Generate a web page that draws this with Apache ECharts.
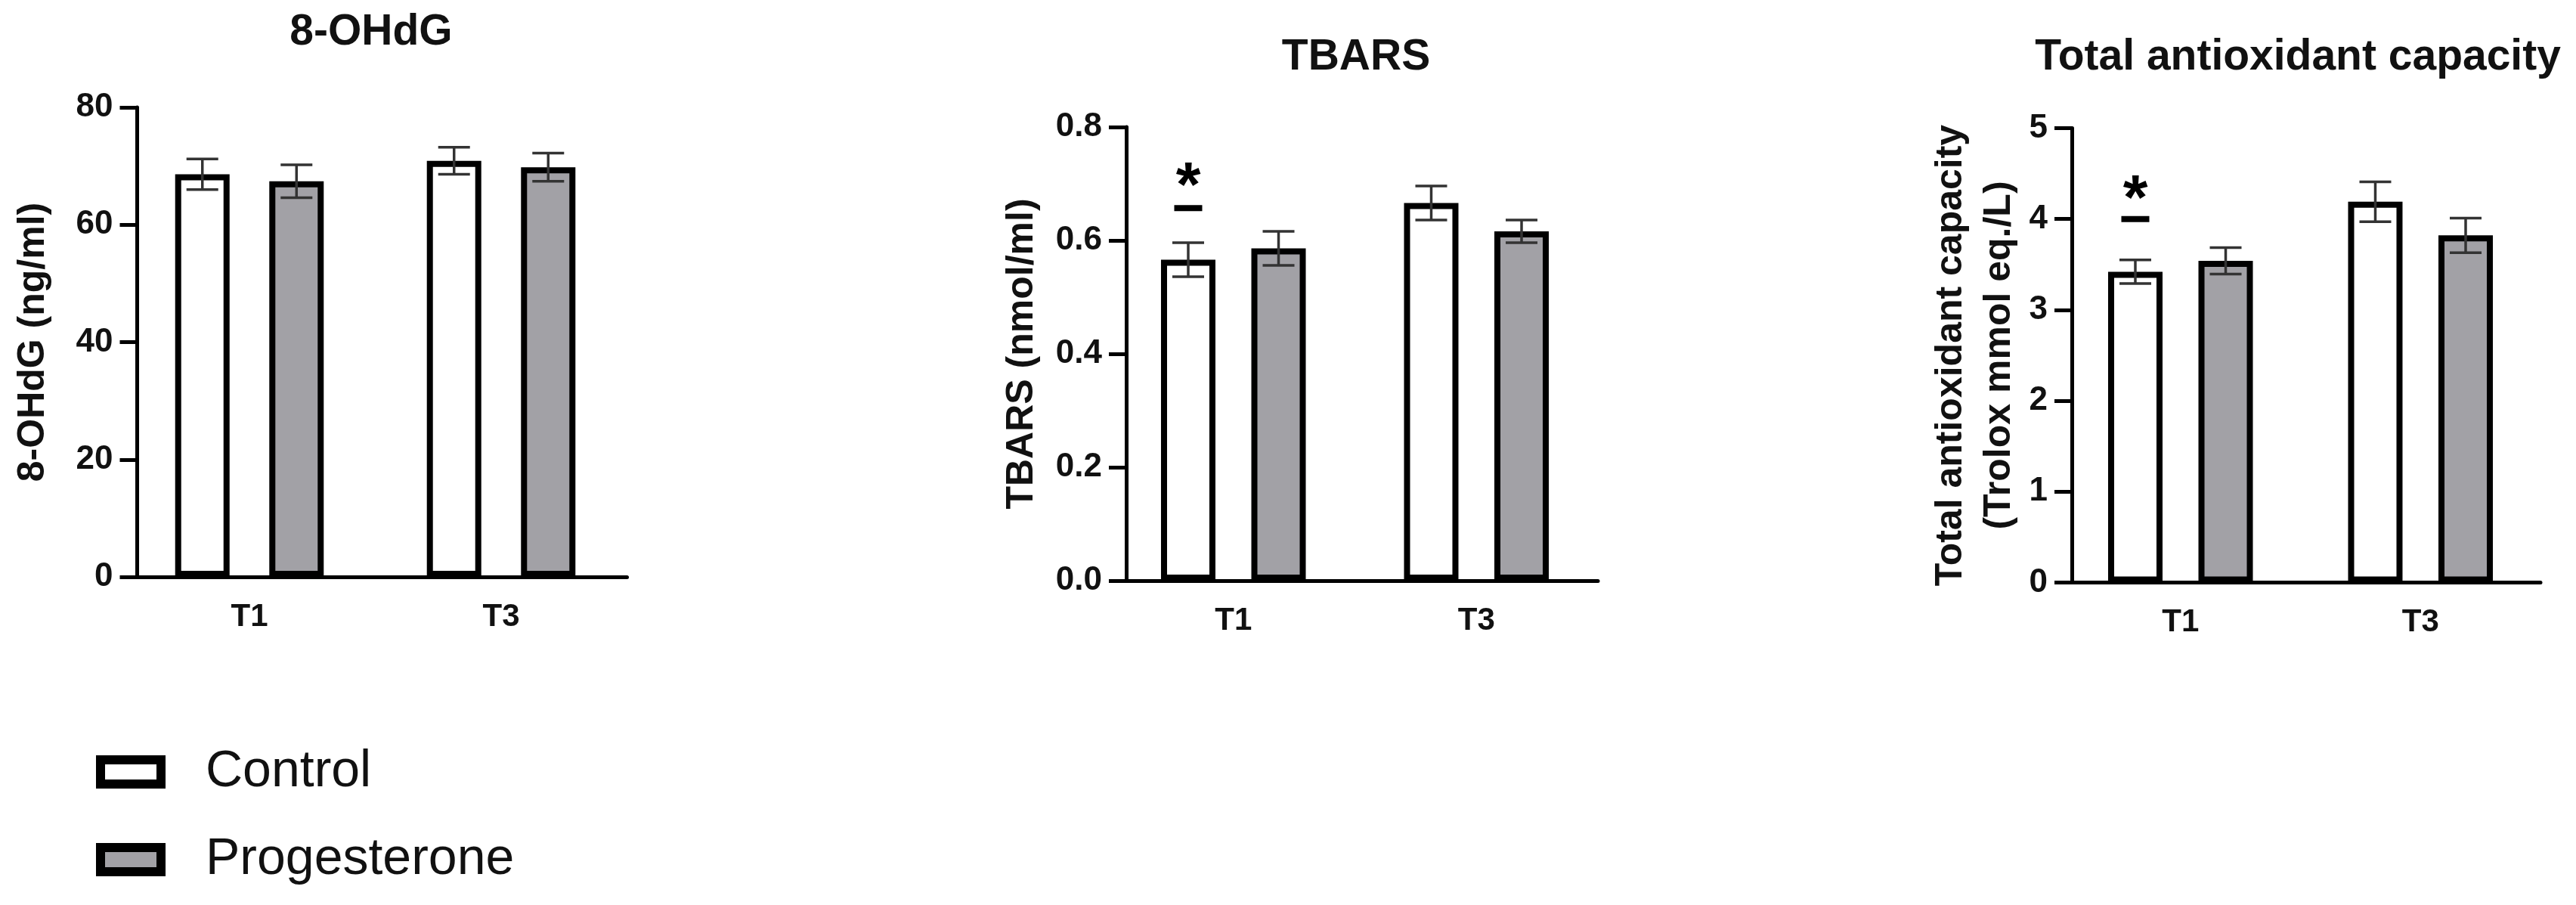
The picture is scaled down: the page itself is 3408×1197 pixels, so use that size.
<!DOCTYPE html>
<html>
<head>
<meta charset="utf-8">
<script src="https://cdn.jsdelivr.net/npm/echarts@6/dist/echarts.min.js"></script>
<style>
  html, body { margin: 0; padding: 0; background: #fff; }
  #chart { width: 3408px; height: 1197px; }
</style>
</head>
<body>
<div id="chart"></div>
<script>
// values: mean and SD per group
const categories = ["T1", "T3"];
const groupNames = ["Control", "Progesterone"];

const ohdgControl = [68.6, 70.9];
const ohdgControlSd = [2.6, 2.3];
const ohdgProg = [67.4, 69.8];
const ohdgProgSd = [2.8, 2.4];

const tbarsControl = [0.566, 0.666];
const tbarsControlSd = [0.03, 0.03];
const tbarsProg = [0.586, 0.616];
const tbarsProgSd = [0.03, 0.02];

const tacControl = [3.42, 4.19];
const tacControlSd = [0.13, 0.22];
const tacProg = [3.54, 3.82];
const tacProgSd = [0.145, 0.19];

// significance mark over Control T1: [category index, dash level, star level]
const tbarsSig = [[0, 0.657, 0.715]];
const tacSig = [[0, 4.0, 4.34]];

const FONT = '"Liberation Sans", Arial, sans-serif';
const INK = "#111";
const GREY = "#a2a1a6";

const panels = [
  {
    title: "8-OHdG", titleX: 491, titleTop: 15,
    yName: "8-OHdG (ng/ml)", nameGap: 105,
    min: 0, max: 80, interval: 20, digits: 0,
    grid: { left: 163.5, width: 666, top: 142, height: 621 }, axisShift: -18,
    barWidth: 72, barGap: "73%",
    control: ohdgControl, controlSd: ohdgControlSd, prog: ohdgProg, progSd: ohdgProgSd,
    sig: null,
  },
  {
    title: "TBARS", titleX: 1794, titleTop: 48,
    yName: "TBARS (nmol/ml)", nameGap: 106,
    min: 0, max: 0.8, interval: 0.2, digits: 1,
    grid: { left: 1471, width: 643, top: 168, height: 600 }, axisShift: -19,
    barWidth: 72, barGap: "66%",
    control: tbarsControl, controlSd: tbarsControlSd, prog: tbarsProg, progSd: tbarsProgSd,
    sig: tbarsSig,
  },
  {
    title: "Total antioxidant capacity", titleX: 3040, titleTop: 48,
    yName: "Total antioxidant capacity\n(Trolox mmol eq./L)", nameGap: 64,
    min: 0, max: 5, interval: 1, digits: 0,
    grid: { left: 2726, width: 635, top: 169.5, height: 601 }, axisShift: -15,
    barWidth: 72, barGap: "66%",
    control: tacControl, controlSd: tacControlSd, prog: tacProg, progSd: tacProgSd,
    sig: tacSig,
  },
];

// half distance between the two bar centres of a group
const halfStep = (p) => (p.barWidth * (1 + parseFloat(p.barGap) / 100)) / 2;

const errorSeries = (i, p, means, sds, side) => ({
  type: "custom",
  xAxisIndex: i,
  yAxisIndex: i,
  z: 5,
  silent: true,
  encode: { x: 0, y: [1] },
  data: means.map((m, k) => [k, m, sds[k]]),
  renderItem: (params, api) => {
    const hi = api.coord([api.value(0), api.value(1) + api.value(2)]);
    const lo = api.coord([api.value(0), api.value(1) - api.value(2)]);
    const x = hi[0] + side * halfStep(p);
    const style = { stroke: "#333", lineWidth: 3.5 };
    return {
      type: "group",
      children: [
        { type: "line", shape: { x1: x, y1: hi[1], x2: x, y2: lo[1] }, style },
        { type: "line", shape: { x1: x - 21, y1: hi[1], x2: x + 21, y2: hi[1] }, style },
        { type: "line", shape: { x1: x - 21, y1: lo[1], x2: x + 21, y2: lo[1] }, style },
      ],
    };
  },
});

const sigSeries = (i, p) => ({
  type: "custom",
  xAxisIndex: i,
  yAxisIndex: i,
  z: 6,
  silent: true,
  encode: { x: 0, y: [1, 2] },
  data: p.sig,
  renderItem: (params, api) => {
    const dash = api.coord([api.value(0), api.value(1)]);
    const star = api.coord([api.value(0), api.value(2)]);
    const x = dash[0] - halfStep(p);
    return {
      type: "group",
      children: [
        { type: "rect", shape: { x: x - 18.5, y: dash[1] - 4, width: 37, height: 8 }, style: { fill: "#000" } },
        {
          type: "text",
          x: x,
          y: star[1] + 18,
          style: {
            text: "*", fill: "#000", align: "center", verticalAlign: "middle",
            fontSize: 84, fontWeight: "bold", fontFamily: FONT,
          },
        },
      ],
    };
  },
});

const option = {
  backgroundColor: "#fff",
  animation: false,
  title: panels.map((p) => ({
    text: p.title,
    left: p.titleX,
    top: p.titleTop,
    textAlign: "center",
    padding: 0,
    textStyle: { fontFamily: FONT, fontSize: 57, fontWeight: "bold", color: INK, lineHeight: 57 },
  })),
  legend: {
    orient: "vertical",
    left: 127,
    top: 987,
    padding: 0,
    itemGap: 48,
    itemWidth: 80,
    itemHeight: 32,
    icon: "rect",
    selectedMode: false,
    data: groupNames,
    itemStyle: { borderColor: "#000", borderWidth: 12 },
    textStyle: { fontFamily: FONT, fontSize: 68, color: INK, padding: [0, 0, 0, 54] },
  },
  grid: panels.map((p) => ({ ...p.grid, containLabel: false })),
  xAxis: panels.map((p, i) => ({
    type: "category",
    gridIndex: i,
    data: categories,
    axisLine: { lineStyle: { color: "#000", width: 5 } },
    axisTick: { alignWithLabel: true, length: 25, lineStyle: { color: "#000", width: 5 } },
    axisLabel: { fontFamily: FONT, fontSize: 42, fontWeight: "bold", color: INK, margin: 32 },
  })),
  yAxis: panels.map((p, i) => ({
    type: "value",
    gridIndex: i,
    min: p.min,
    max: p.max,
    interval: p.interval,
    offset: p.axisShift,
    name: p.yName,
    nameLocation: "middle",
    nameGap: p.nameGap,
    nameTextStyle: { fontFamily: FONT, fontSize: 50, fontWeight: "bold", color: INK, lineHeight: 64 },
    splitLine: { show: false },
    axisLine: { show: true, lineStyle: { color: "#000", width: 5 } },
    axisTick: { show: true, length: 23, lineStyle: { color: "#000", width: 5 } },
    axisLabel: {
      fontFamily: FONT, fontSize: 44, fontWeight: "bold", color: INK, margin: 32,
      formatter: (v) => v.toFixed(p.digits),
    },
  })),
  series: panels.flatMap((p, i) => {
    const list = [
      {
        name: "Control", type: "bar", xAxisIndex: i, yAxisIndex: i,
        barWidth: p.barWidth, barGap: p.barGap, data: p.control,
        itemStyle: { color: "#fff", borderColor: "#000", borderWidth: 8 },
      },
      {
        name: "Progesterone", type: "bar", xAxisIndex: i, yAxisIndex: i,
        barWidth: p.barWidth, barGap: p.barGap, data: p.prog,
        itemStyle: { color: GREY, borderColor: "#000", borderWidth: 8 },
      },
      errorSeries(i, p, p.control, p.controlSd, -1),
      errorSeries(i, p, p.prog, p.progSd, 1),
    ];
    if (p.sig) list.push(sigSeries(i, p));
    return list;
  }),
};

const chart = echarts.init(document.getElementById("chart"), null, { renderer: "canvas" });
chart.setOption(option);
window.addEventListener("resize", () => chart.resize());
</script>
</body>
</html>
